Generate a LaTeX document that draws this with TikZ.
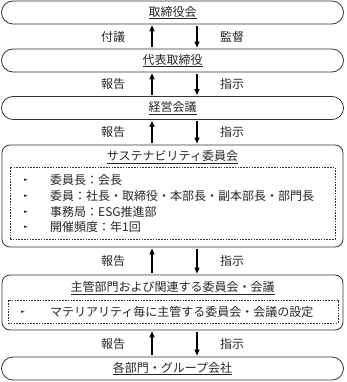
\documentclass[tikz,border=0pt]{standalone}
\usepackage{fontspec}
\setmainfont{Noto Sans CJK JP}
\newfontfamily\dvfont{DejaVu Sans}
\usetikzlibrary{arrows.meta,calc}
\newcommand\ulbox[1]{\underline{#1}}
\newcommand\bul{{\dvfont\fontsize{5}{5}\selectfont ►}}
\tikzset{
  base/.style={font=\fontsize{12}{14}\selectfont, text=black!85},
  stadium/.style={base, draw=black!80, line width=0.8pt, rounded corners=11.5pt,
     minimum width=342pt, minimum height=23pt, inner sep=0pt},
  panel/.style={draw=black!80, line width=0.8pt, rounded corners=8pt,
     minimum width=341pt, inner sep=0pt},
  dashbox/.style={draw=black!80, line width=0.6pt, dash pattern=on 1.6pt off 1.2pt, inner sep=0pt},
  title/.style={base, inner sep=0pt},
  lbl/.style={base, inner sep=0pt},
  item/.style={base, anchor=west, inner sep=0pt},
  bulnode/.style={inner sep=0pt, text=black!85},
  arr/.style={line width=1.1pt, draw=black, -{Triangle[length=6pt,width=5pt]}, shorten >=1pt, shorten <=1.5pt}
}
\begin{document}
\begin{tikzpicture}[x=1pt,y=-1pt]
\useasboundingbox (0,0) rectangle (346,382);
\coordinate (ux) at (152,0);
\coordinate (dx) at (197,0);
% boxes
\node[stadium] (b1) at (172.5,12.5) {\ulbox{取締役会}};
\node[stadium] (b2) at (172.5,60.5) {\ulbox{代表取締役}};
\node[stadium] (b3) at (172.5,108) {\ulbox{経営会議}};
\node[panel, minimum height=102pt] (b4) at (172.5,196) {};
\node[title] (t4) at (172.5,157) {\ulbox{サステナビリティ委員会}};
\node[dashbox, minimum width=325pt, minimum height=72pt] (d4) at (172.5,203) {};
\node[bulnode] (p1) at (26,180) {\bul};
\node[item] (i1) at (50,180) {委員長：会長};
\node[bulnode] (p2) at (26,196) {\bul};
\node[item] (i2) at (50,196) {委員：社長・取締役・本部長・副本部長・部門長};
\node[bulnode] (p3) at (26,212) {\bul};
\node[item] (i3) at (50,212) {事務局：ESG推進部};
\node[bulnode] (p4) at (26,227) {\bul};
\node[item] (i4) at (50,227) {開催頻度：年1回};
\node[panel, minimum height=55pt] (b5) at (172.5,302.5) {};
\node[title] (t5) at (172.5,288) {\ulbox{主管部門および関連する委員会・会議}};
\node[dashbox, minimum width=330pt, minimum height=23pt] (d5) at (173,311.5) {};
\node[bulnode] (p5) at (23,312) {\bul};
\node[item] (i5) at (50,312) {マテリアリティ毎に主管する委員会・会議の設定};
\node[stadium] (b6) at (172.5,368.5) {\ulbox{各部門・グループ会社}};
% arrows
\draw[arr] (b2.north -| ux) -- (b1.south -| ux);
\draw[arr] (b1.south -| dx) -- (b2.north -| dx);
\draw[arr] (b3.north -| ux) -- (b2.south -| ux);
\draw[arr] (b2.south -| dx) -- (b3.north -| dx);
\draw[arr] (b4.north -| ux) -- (b3.south -| ux);
\draw[arr] (b3.south -| dx) -- (b4.north -| dx);
\draw[arr] (b5.north -| ux) -- (b4.south -| ux);
\draw[arr] (b4.south -| dx) -- (b5.north -| dx);
\draw[arr] (b6.north -| ux) -- (b5.south -| ux);
\draw[arr] (b5.south -| dx) -- (b6.north -| dx);
% labels
\node[lbl] (l1) at (113,36.5) {付議};
\node[lbl] (r1) at (232,36.5) {監督};
\node[lbl] (l2) at (113,84) {報告};
\node[lbl] (r2) at (232,84) {指示};
\node[lbl] (l3) at (113,132) {報告};
\node[lbl] (r3) at (232,132) {指示};
\node[lbl] (l4) at (113,261) {報告};
\node[lbl] (r4) at (232,261) {指示};
\node[lbl] (l5) at (113,344) {報告};
\node[lbl] (r5) at (232,344) {指示};
\end{tikzpicture}
\end{document}
